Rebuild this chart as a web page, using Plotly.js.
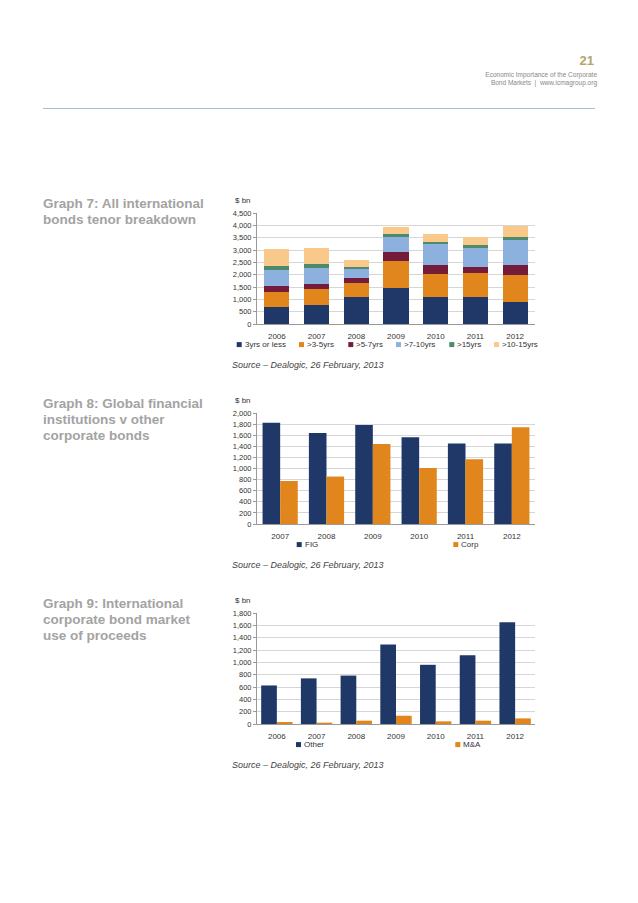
<!DOCTYPE html>
<html>
<head>
<meta charset="utf-8">
<script src="https://cdn.plot.ly/plotly-3.0.1.min.js"></script>
<style>
  body { margin: 0; background: #fff; font-family: "Liberation Sans", Arial, sans-serif; }
  #page { position: relative; width: 638px; height: 903px; overflow: hidden; }
  .abs { position: absolute; }
  .gtitle { left: 43px; width: 166px; font-size: 13.5px; line-height: 16px; font-weight: bold; color: #a3a3a3; }
  .source { left: 232px; font-size: 9px; font-style: italic; color: #444; }
  .plot { left: 220px; width: 330px; height: 180px; }
</style>
</head>
<body>
<div id="page">
  <div class="abs" style="left:556px;top:53px;width:38px;text-align:right;font-size:13px;font-weight:bold;color:#b3a56b;">21</div>
  <div class="abs" style="left:420px;top:71px;width:177px;text-align:right;font-size:6.5px;line-height:7.5px;color:#888;">Economic Importance of the Corporate<br>Bond Markets &nbsp;|&nbsp; www.icmagroup.org</div>
  <div class="abs" style="left:43px;top:108px;width:552px;height:1px;background:#9fc6d2;"></div>

  <div class="abs gtitle" style="top:196px;">Graph 7: All international bonds tenor breakdown</div>
  <div class="abs gtitle" style="top:396px;">Graph 8: Global financial institutions v other corporate bonds</div>
  <div class="abs gtitle" style="top:596px;">Graph 9: International corporate bond market use of proceeds</div>

  <div id="g7" class="abs plot" style="top:190px;"></div>
  <div id="g8" class="abs plot" style="top:390px;"></div>
  <div id="g9" class="abs plot" style="top:590px;"></div>

  <div class="abs source" style="top:360px;">Source – Dealogic, 26 February, 2013</div>
  <div class="abs source" style="top:560px;">Source – Dealogic, 26 February, 2013</div>
  <div class="abs source" style="top:760px;">Source – Dealogic, 26 February, 2013</div>
</div>
<script>
// Graph 7: tenor breakdown ($ bn)
var years7 = ['2006', '2007', '2008', '2009', '2010', '2011', '2012'];
var tenorNames = ['3yrs or less', '>3-5yrs', '>5-7yrs', '>7-10yrs', '>15yrs', '>10-15yrs'];
var upTo3 = [685, 780, 1075, 1440, 1115, 1100, 900];
var y3to5 = [630, 645, 580, 1130, 900, 955, 1090];
var y5to7 = [230, 215, 190, 335, 390, 255, 400];
var y7to10 = [645, 630, 405, 630, 820, 780, 1010];
var over15 = [175, 150, 65, 120, 110, 120, 110];
var y10to15 = [660, 660, 280, 270, 310, 310, 470];

// Graph 8: FIG vs corporate ($ bn)
var years8 = ['2007', '2008', '2009', '2010', '2011', '2012'];
var fig = [1825, 1640, 1785, 1565, 1450, 1450];
var corp = [775, 855, 1440, 1010, 1165, 1745];

// Graph 9: use of proceeds ($ bn)
var years9 = ['2006', '2007', '2008', '2009', '2010', '2011', '2012'];
var other = [625, 740, 785, 1290, 960, 1115, 1650];
var mna = [32, 22, 54, 134, 43, 54, 91];

var navy = '#1f3868';
var orange = '#e0861c';
var tenorColors = [navy, orange, '#761c3b', '#8cb1df', '#4d8a6c', '#f9c98c'];

var fam = 'Liberation Sans, Arial, sans-serif';
var font = {family: fam, size: 8, color: '#333'};

// plot area inside each 330x180 div
var M = {l: 37, r: 15, t: 22.7, b: 45.7};
var PW = 330 - M.l - M.r, PH = 180 - M.t - M.b;
function px(x){ return (x - M.l) / PW; }
function py(y){ return (180 - M.b - y) / PH; }

function baseLayout(ymax){
    return {
        width: 330,
        height: 180,
        margin: {l: M.l, r: M.r, t: M.t, b: M.b, autoexpand: false},
        paper_bgcolor: '#fff',
        plot_bgcolor: '#fff',
        font: font,
        showlegend: false,
        xaxis: {
            type: 'category',
            showline: true, linecolor: '#999', linewidth: 1,
            ticks: '', tickfont: font, showgrid: false,
            ticklabelstandoff: 4
        },
        yaxis: {
            range: [0, ymax], dtick: 200, tickformat: ',d',
            showline: true, linecolor: '#999', linewidth: 1,
            ticks: 'outside', ticklen: 3, tickcolor: '#999',
            gridcolor: '#d6d6d6', gridwidth: 1, zeroline: false,
            tickfont: {family: fam, size: 7.5, color: '#333'}
        },
        annotations: [{
            text: '$ bn', xref: 'paper', yref: 'paper',
            x: px(33), y: py(10), xanchor: 'right', yanchor: 'middle',
            showarrow: false, font: font
        }],
        shapes: []
    };
}

// hand-drawn legend: small square + label, positioned in div pixels
function addLegend(layout, names, colors, xs, y){
    names.forEach((name, i) => {
        layout.shapes.push({
            type: 'rect', xref: 'paper', yref: 'paper',
            xsizemode: 'pixel', ysizemode: 'pixel',
            xanchor: px(xs[i]), yanchor: py(y),
            x0: 0, x1: 5, y0: -2.5, y1: 2.5,
            fillcolor: colors[i], line: {width: 0}
        });
        layout.annotations.push({
            text: name, xref: 'paper', yref: 'paper',
            x: px(xs[i] + 6), y: py(y), xanchor: 'left', yanchor: 'middle',
            showarrow: false, font: font
        });
    });
}

var c = {displayModeBar: false, staticPlot: true};

// graph 7
var tenorSeries = [upTo3, y3to5, y5to7, y7to10, over15, y10to15];
var d7 = tenorSeries.map((vals, i) => ({
    type: 'bar', x: years7, y: vals, name: tenorNames[i],
    marker: {color: tenorColors[i]}
}));
var l7 = baseLayout(4500);
l7.barmode = 'stack';
l7.bargap = 0.37;
l7.yaxis.dtick = 500;
addLegend(l7, tenorNames, tenorColors, [16.7, 79, 128.3, 176, 229.3, 274], 155);
Plotly.newPlot('g7', d7, l7, c);

// graph 8
var d8 = [
    {type: 'bar', x: years8, y: fig, name: 'FIG', marker: {color: navy}},
    {type: 'bar', x: years8, y: corp, name: 'Corp', marker: {color: orange}}
];
var l8 = baseLayout(2000);
l8.barmode = 'group';
l8.bargap = 0.24;
l8.bargroupgap = 0;
addLegend(l8, ['FIG', 'Corp'], [navy, orange], [76.7, 233.3], 155);
Plotly.newPlot('g8', d8, l8, c);

// graph 9
var d9 = [
    {type: 'bar', x: years9, y: other, name: 'Other', marker: {color: navy}},
    {type: 'bar', x: years9, y: mna, name: 'M&A', marker: {color: orange}}
];
var l9 = baseLayout(1800);
l9.barmode = 'group';
l9.bargap = 0.21;
l9.bargroupgap = 0;
addLegend(l9, ['Other', 'M&amp;A'], [navy, orange], [76, 235.3], 155);
Plotly.newPlot('g9', d9, l9, c);
</script>
</body>
</html>
